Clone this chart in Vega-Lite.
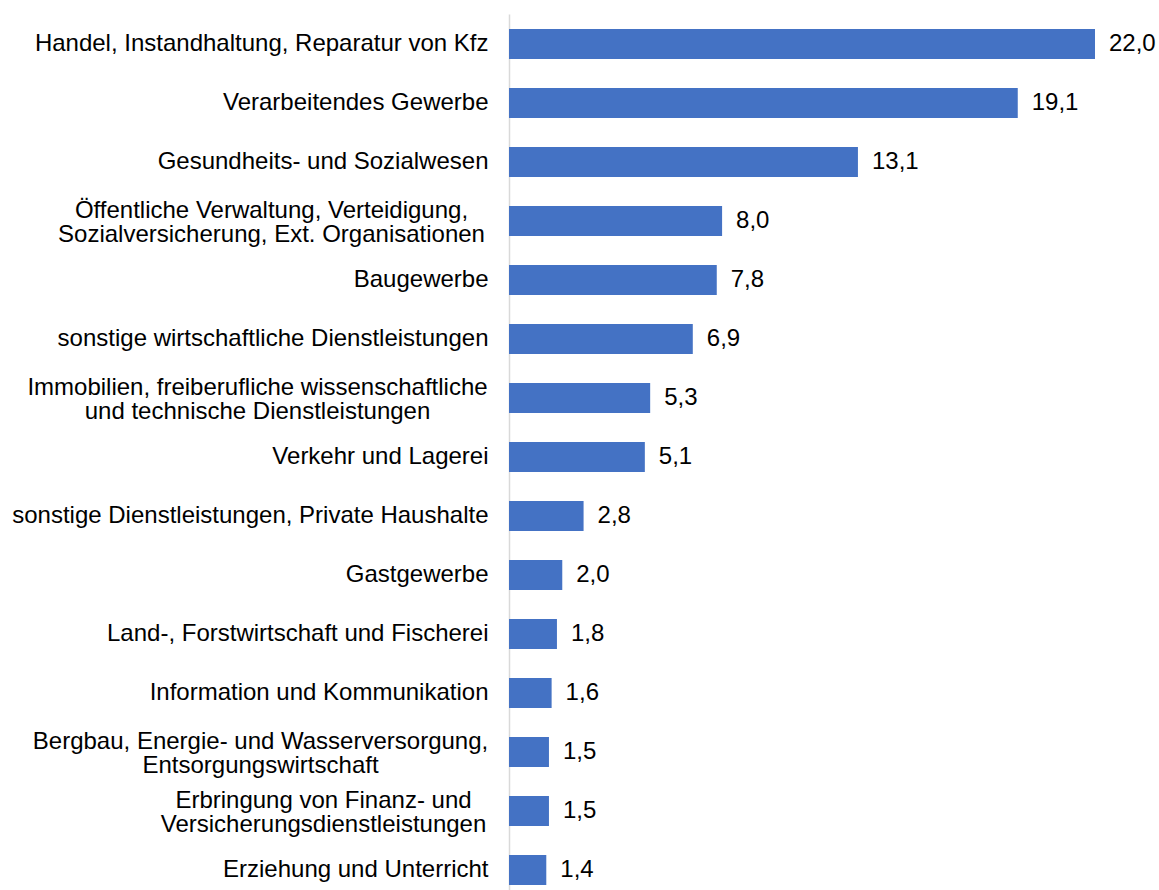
{
  "$schema": "https://vega.github.io/schema/vega-lite/v6.json",
  "autosize": {"type": "none"},
  "width": 586,
  "height": 876,
  "padding": {"left": 509, "top": 14, "right": 64, "bottom": 0},
  "background": "white",
  "config": {
    "view": {"stroke": null},
    "font": "Liberation Sans",
    "locale": {"number": {"decimal": ",", "thousands": ".", "grouping": [3], "currency": ["", " €"]}}
  },
  "data": {
    "values": [
      {"label": "Handel, Instandhaltung, Reparatur von Kfz", "value": 22.0},
      {"label": "Verarbeitendes Gewerbe", "value": 19.1},
      {"label": "Gesundheits- und Sozialwesen", "value": 13.1},
      {"label": "Öffentliche Verwaltung, Verteidigung,|Sozialversicherung, Ext. Organisationen", "value": 8.0},
      {"label": "Baugewerbe", "value": 7.8},
      {"label": "sonstige wirtschaftliche Dienstleistungen ", "value": 6.9},
      {"label": "Immobilien, freiberufliche wissenschaftliche|und technische Dienstleistungen", "value": 5.3},
      {"label": "Verkehr und Lagerei", "value": 5.1},
      {"label": "sonstige Dienstleistungen, Private Haushalte", "value": 2.8},
      {"label": "Gastgewerbe", "value": 2.0},
      {"label": "Land-, Forstwirtschaft und Fischerei", "value": 1.8},
      {"label": "Information und Kommunikation", "value": 1.6},
      {"label": "Bergbau, Energie- und Wasserversorgung,|Entsorgungswirtschaft", "value": 1.5},
      {"label": "Erbringung von Finanz- und|Versicherungsdienstleistungen", "value": 1.5},
      {"label": "Erziehung und Unterricht", "value": 1.4}
    ]
  },
  "encoding": {
    "y": {
      "field": "label",
      "type": "nominal",
      "sort": null,
      "title": null,
      "scale": {"range": [0, 886], "paddingInner": 0.492, "paddingOuter": 0.254},
      "axis": {
        "labelExpr": "split(replace(datum.label, / $/, '\u00a0'), '|')",
        "labelFontSize": 24,
        "labelLineHeight": 24,
        "labelColor": "#000000",
        "labelLimit": 0,
        "labelAlign": {"condition": {"test": "indexof(datum.value, '|') >= 0", "value": "center"}, "value": "right"},
        "labelOffset": {"condition": {"test": "indexof(datum.value, '|') >= 0", "value": -10}, "value": 0},
        "labelPadding": {
          "condition": [
            {"test": "indexof(datum.value, 'Öffentliche') == 0", "value": 238},
            {"test": "indexof(datum.value, 'Immobilien') == 0", "value": 252},
            {"test": "indexof(datum.value, 'Bergbau') == 0", "value": 249},
            {"test": "indexof(datum.value, 'Erbringung') == 0", "value": 186}
          ],
          "value": 21
        },
        "ticks": false,
        "domainColor": "#D9D9D9",
        "domainWidth": 1.5,
        "grid": false
      }
    },
    "x": {
      "field": "value",
      "type": "quantitative",
      "scale": {"domain": [0, 22]},
      "axis": null
    }
  },
  "layer": [
    {"mark": {"type": "bar", "color": "#4472C4"}},
    {
      "mark": {"type": "text", "align": "left", "baseline": "middle", "dx": 14, "fontSize": 24, "color": "#000000"},
      "encoding": {"text": {"field": "value", "type": "quantitative", "format": ".1f"}}
    }
  ]
}
